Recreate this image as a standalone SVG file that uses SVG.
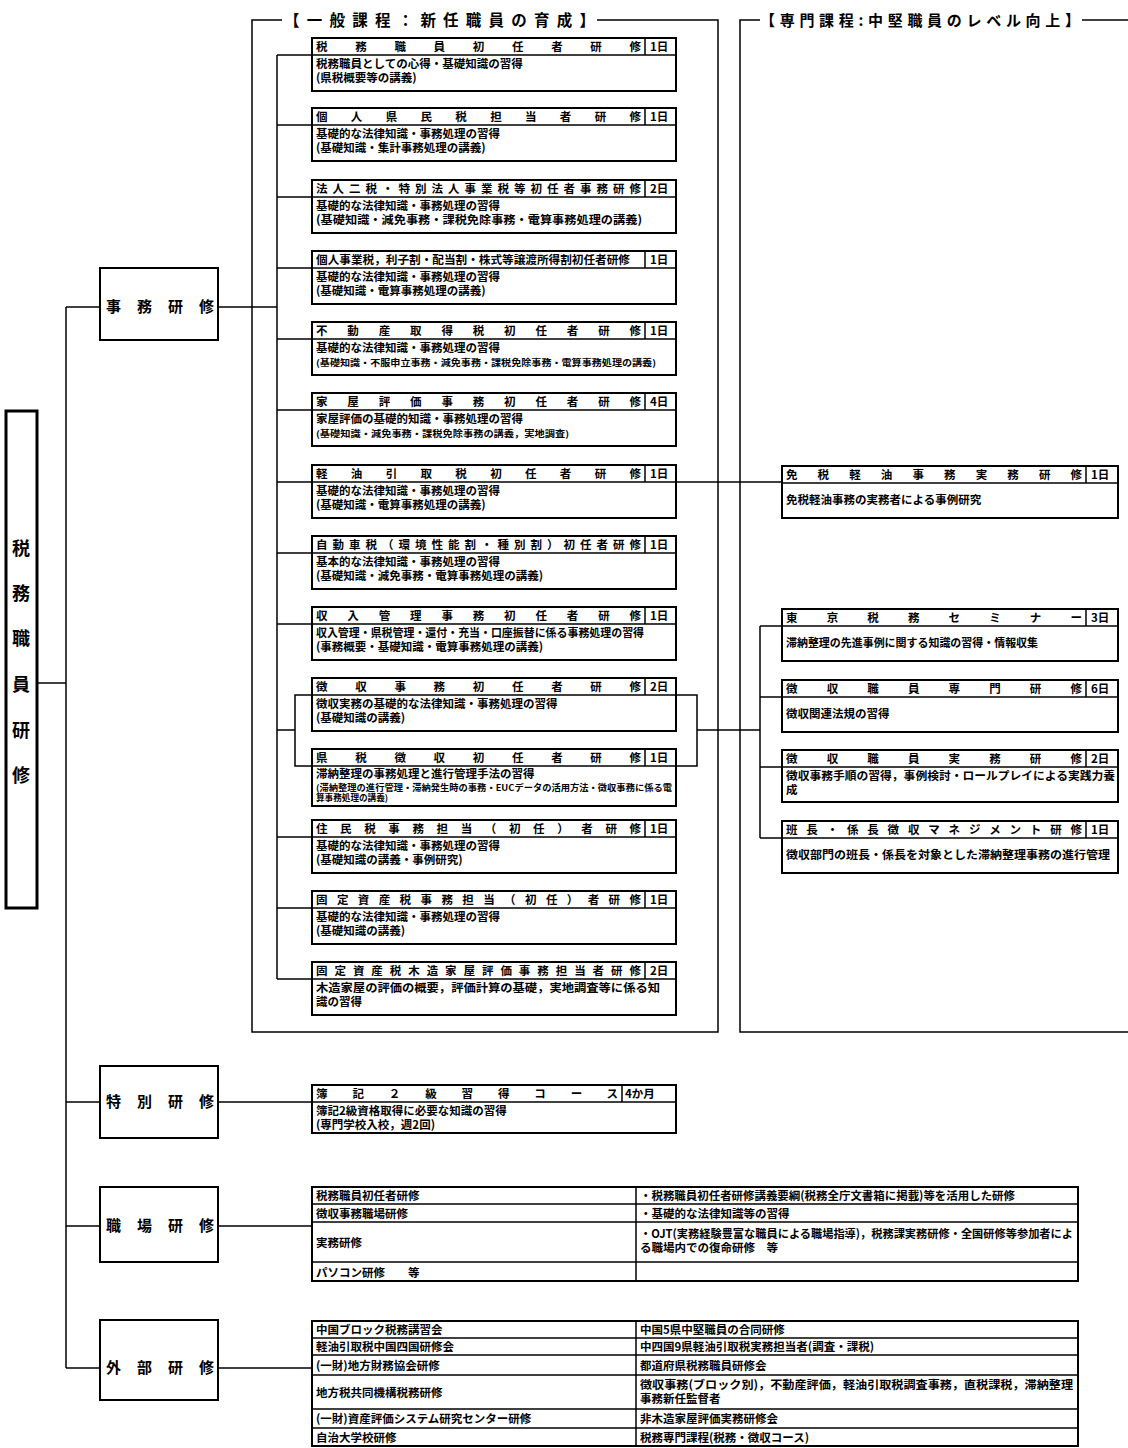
<svg xmlns="http://www.w3.org/2000/svg" width="1128" height="1448" viewBox="0 0 1128 1448">
<style>
.b{fill:#fff;stroke:#000;stroke-width:2}
.d{stroke:#000;stroke-width:1.5}
.ln{stroke:#000;stroke-width:1.5;fill:none}
text{font-family:"Noto Sans CJK JP","Noto Sans CJK SC",sans-serif;font-weight:bold;fill:#000}
.h{font-size:11.5px}
.t{font-size:11.5px}
.s{font-size:8.6px}
.m{font-size:15px}
.tb{font-size:11.5px}
</style>
<rect width="1128" height="1448" fill="#fff"/>
<g id="connectors">
<polyline class="ln" points="282,20 252,20 252,1032 718,1032 718,20 597,20"/>
<polyline class="ln" points="760,20 740,20 740,1032 1128,1032"/>
<line class="ln" x1="1082" y1="20" x2="1128" y2="20"/>
<line class="ln" x1="37" y1="683" x2="66" y2="683"/>
<line class="ln" x1="66" y1="307" x2="66" y2="1368"/>
<line class="ln" x1="66" y1="307" x2="100" y2="307"/>
<line class="ln" x1="66" y1="1102" x2="100" y2="1102"/>
<line class="ln" x1="66" y1="1226" x2="100" y2="1226"/>
<line class="ln" x1="66" y1="1368" x2="100" y2="1368"/>
<line class="ln" x1="218" y1="307" x2="277" y2="307"/>
<line class="ln" x1="218" y1="1102" x2="312" y2="1102"/>
<line class="ln" x1="218" y1="1226" x2="312" y2="1226"/>
<line class="ln" x1="218" y1="1368" x2="312" y2="1368"/>
<line class="ln" x1="277" y1="55" x2="277" y2="979"/>
<line class="ln" x1="277" y1="55" x2="312" y2="55"/>
<line class="ln" x1="277" y1="125" x2="312" y2="125"/>
<line class="ln" x1="277" y1="197" x2="312" y2="197"/>
<line class="ln" x1="277" y1="268" x2="312" y2="268"/>
<line class="ln" x1="277" y1="339" x2="312" y2="339"/>
<line class="ln" x1="277" y1="410" x2="312" y2="410"/>
<line class="ln" x1="277" y1="482" x2="312" y2="482"/>
<line class="ln" x1="277" y1="553" x2="312" y2="553"/>
<line class="ln" x1="277" y1="624" x2="312" y2="624"/>
<line class="ln" x1="277" y1="730" x2="295" y2="730"/>
<polyline class="ln" points="312,695 295,695 295,766 312,766"/>
<line class="ln" x1="277" y1="837" x2="312" y2="837"/>
<line class="ln" x1="277" y1="908" x2="312" y2="908"/>
<line class="ln" x1="277" y1="979" x2="312" y2="979"/>
<polyline class="ln" points="676,695 697,695 697,766 676,766"/>
<line class="ln" x1="697" y1="730" x2="760" y2="730"/>
<line class="ln" x1="676" y1="482" x2="782" y2="482"/>
<line class="ln" x1="760" y1="626" x2="760" y2="838"/>
<line class="ln" x1="760" y1="626" x2="782" y2="626"/>
<line class="ln" x1="760" y1="697" x2="782" y2="697"/>
<line class="ln" x1="760" y1="767" x2="782" y2="767"/>
<line class="ln" x1="760" y1="838" x2="782" y2="838"/>
</g>
<g id="frame-titles">
<text x="284" y="26" font-size="15.5" textLength="311" lengthAdjust="spacing">【一般課程：新任職員の育成】</text>
<text x="760" y="26" font-size="15" textLength="320" lengthAdjust="spacing">【専門課程:中堅職員のレベル向上】</text>
</g>
<g id="root">
<rect x="6" y="411" width="31" height="497" fill="#fff" stroke="#000" stroke-width="3"/>
<text x="21" y="555" font-size="18" text-anchor="middle">税</text>
<text x="21" y="600" font-size="18" text-anchor="middle">務</text>
<text x="21" y="645" font-size="18" text-anchor="middle">職</text>
<text x="21" y="691" font-size="18" text-anchor="middle">員</text>
<text x="21" y="737" font-size="18" text-anchor="middle">研</text>
<text x="21" y="782" font-size="18" text-anchor="middle">修</text>
</g>
<g id="jimu"><rect class="b" x="100" y="268" width="118" height="72"/><text class="m" x="106" y="312" textLength="108" lengthAdjust="spacing">事務研修</text></g>
<g id="tokubetsu"><rect class="b" x="100" y="1066" width="118" height="72"/><text class="m" x="106" y="1107" textLength="108" lengthAdjust="spacing">特別研修</text></g>
<g id="shokuba"><rect class="b" x="100" y="1187" width="118" height="75"/><text class="m" x="106" y="1231" textLength="108" lengthAdjust="spacing">職場研修</text></g>
<g id="gaibu"><rect class="b" x="100" y="1320" width="118" height="80"/><text class="m" x="106" y="1373" textLength="108" lengthAdjust="spacing">外部研修</text></g>

<g id="c1"><rect class="b" x="312" y="38" width="364" height="53"/><line class="d" x1="312" y1="55" x2="676" y2="55"/><line class="d" x1="645" y1="38" x2="645" y2="55"/>
<text class="h" x="316" y="51" textLength="325" lengthAdjust="spacing">税務職員初任者研修</text><text class="h" x="650" y="51">1日</text>
<text class="t" x="316" y="68">税務職員としての心得・基礎知識の習得</text><text class="t" x="316" y="82">(県税概要等の講義)</text></g>

<g id="c2"><rect class="b" x="312" y="108" width="364" height="53"/><line class="d" x1="312" y1="125" x2="676" y2="125"/><line class="d" x1="645" y1="108" x2="645" y2="125"/>
<text class="h" x="316" y="121" textLength="325" lengthAdjust="spacing">個人県民税担当者研修</text><text class="h" x="650" y="121">1日</text>
<text class="t" x="316" y="138">基礎的な法律知識・事務処理の習得</text><text class="t" x="316" y="152">(基礎知識・集計事務処理の講義)</text></g>

<g id="c3"><rect class="b" x="312" y="180" width="364" height="53"/><line class="d" x1="312" y1="197" x2="676" y2="197"/><line class="d" x1="645" y1="180" x2="645" y2="197"/>
<text class="h" x="316" y="193" textLength="325" lengthAdjust="spacing">法人二税・特別法人事業税等初任者事務研修</text><text class="h" x="650" y="193">2日</text>
<text class="t" x="316" y="210">基礎的な法律知識・事務処理の習得</text><text class="t" x="316" y="224" textLength="326" lengthAdjust="spacingAndGlyphs">(基礎知識・減免事務・課税免除事務・電算事務処理の講義)</text></g>

<g id="c4"><rect class="b" x="312" y="251" width="364" height="53"/><line class="d" x1="312" y1="268" x2="676" y2="268"/><line class="d" x1="645" y1="251" x2="645" y2="268"/>
<text class="h" x="316" y="264" textLength="314" lengthAdjust="spacingAndGlyphs">個人事業税，利子割・配当割・株式等譲渡所得割初任者研修</text><text class="h" x="650" y="264">1日</text>
<text class="t" x="316" y="281">基礎的な法律知識・事務処理の習得</text><text class="t" x="316" y="295">(基礎知識・電算事務処理の講義)</text></g>

<g id="c5"><rect class="b" x="312" y="322" width="364" height="53"/><line class="d" x1="312" y1="339" x2="676" y2="339"/><line class="d" x1="645" y1="322" x2="645" y2="339"/>
<text class="h" x="316" y="335" textLength="325" lengthAdjust="spacing">不動産取得税初任者研修</text><text class="h" x="650" y="335">1日</text>
<text class="t" x="316" y="352">基礎的な法律知識・事務処理の習得</text><text class="s" x="316" y="366" textLength="340" lengthAdjust="spacingAndGlyphs">(基礎知識・不服申立事務・減免事務・課税免除事務・電算事務処理の講義)</text></g>

<g id="c6"><rect class="b" x="312" y="393" width="364" height="53"/><line class="d" x1="312" y1="410" x2="676" y2="410"/><line class="d" x1="645" y1="393" x2="645" y2="410"/>
<text class="h" x="316" y="406" textLength="325" lengthAdjust="spacing">家屋評価事務初任者研修</text><text class="h" x="650" y="406">4日</text>
<text class="t" x="316" y="423">家屋評価の基礎的知識・事務処理の習得</text><text class="s" x="316" y="437" textLength="253" lengthAdjust="spacingAndGlyphs">(基礎知識・減免事務・課税免除事務の講義，実地調査)</text></g>

<g id="c7"><rect class="b" x="312" y="465" width="364" height="53"/><line class="d" x1="312" y1="482" x2="676" y2="482"/><line class="d" x1="645" y1="465" x2="645" y2="482"/>
<text class="h" x="316" y="478" textLength="325" lengthAdjust="spacing">軽油引取税初任者研修</text><text class="h" x="650" y="478">1日</text>
<text class="t" x="316" y="495">基礎的な法律知識・事務処理の習得</text><text class="t" x="316" y="509">(基礎知識・電算事務処理の講義)</text></g>

<g id="c8"><rect class="b" x="312" y="536" width="364" height="53"/><line class="d" x1="312" y1="553" x2="676" y2="553"/><line class="d" x1="645" y1="536" x2="645" y2="553"/>
<text class="h" x="316" y="549" textLength="325" lengthAdjust="spacing">自動車税（環境性能割・種別割）初任者研修</text><text class="h" x="650" y="549">1日</text>
<text class="t" x="316" y="566">基本的な法律知識・事務処理の習得</text><text class="t" x="316" y="580">(基礎知識・減免事務・電算事務処理の講義)</text></g>

<g id="c9"><rect class="b" x="312" y="607" width="364" height="53"/><line class="d" x1="312" y1="624" x2="676" y2="624"/><line class="d" x1="645" y1="607" x2="645" y2="624"/>
<text class="h" x="316" y="620" textLength="325" lengthAdjust="spacing">収入管理事務初任者研修</text><text class="h" x="650" y="620">1日</text>
<text class="t" x="316" y="637" textLength="328" lengthAdjust="spacingAndGlyphs">収入管理・県税管理・還付・充当・口座振替に係る事務処理の習得</text><text class="t" x="316" y="651">(事務概要・基礎知識・電算事務処理の講義)</text></g>

<g id="c10"><rect class="b" x="312" y="678" width="364" height="53"/><line class="d" x1="312" y1="695" x2="676" y2="695"/><line class="d" x1="645" y1="678" x2="645" y2="695"/>
<text class="h" x="316" y="691" textLength="325" lengthAdjust="spacing">徴収事務初任者研修</text><text class="h" x="650" y="691">2日</text>
<text class="t" x="316" y="708" font-size="12">徴収実務の基礎的な法律知識・事務処理の習得</text><text class="t" x="316" y="722">(基礎知識の講義)</text></g>

<g id="c11"><rect class="b" x="312" y="749" width="364" height="57"/><line class="d" x1="312" y1="766" x2="676" y2="766"/><line class="d" x1="645" y1="749" x2="645" y2="766"/>
<text class="h" x="316" y="762" textLength="325" lengthAdjust="spacing">県税徴収初任者研修</text><text class="h" x="650" y="762">1日</text>
<text class="t" x="316" y="778" font-size="12">滞納整理の事務処理と進行管理手法の習得</text>
<text class="s" x="316" y="791" font-size="7.6" textLength="356" lengthAdjust="spacingAndGlyphs">(滞納整理の進行管理・滞納発生時の事務・EUCデータの活用方法・徴収事務に係る電</text>
<text class="s" x="316" y="801" font-size="7.6">算事務処理の講義)</text></g>

<g id="c12"><rect class="b" x="312" y="820" width="364" height="53"/><line class="d" x1="312" y1="837" x2="676" y2="837"/><line class="d" x1="645" y1="820" x2="645" y2="837"/>
<text class="h" x="316" y="833" textLength="325" lengthAdjust="spacing">住民税事務担当（初任）者研修</text><text class="h" x="650" y="833">1日</text>
<text class="t" x="316" y="850">基礎的な法律知識・事務処理の習得</text><text class="t" x="316" y="864">(基礎知識の講義・事例研究)</text></g>

<g id="c13"><rect class="b" x="312" y="891" width="364" height="53"/><line class="d" x1="312" y1="908" x2="676" y2="908"/><line class="d" x1="645" y1="891" x2="645" y2="908"/>
<text class="h" x="316" y="904" textLength="325" lengthAdjust="spacing">固定資産税事務担当（初任）者研修</text><text class="h" x="650" y="904">1日</text>
<text class="t" x="316" y="921">基礎的な法律知識・事務処理の習得</text><text class="t" x="316" y="935">(基礎知識の講義)</text></g>

<g id="c14"><rect class="b" x="312" y="962" width="364" height="53"/><line class="d" x1="312" y1="979" x2="676" y2="979"/><line class="d" x1="645" y1="962" x2="645" y2="979"/>
<text class="h" x="316" y="975" textLength="325" lengthAdjust="spacing">固定資産税木造家屋評価事務担当者研修</text><text class="h" x="650" y="975">2日</text>
<text class="t" x="316" y="992" textLength="344" lengthAdjust="spacingAndGlyphs">木造家屋の評価の概要，評価計算の基礎，実地調査等に係る知</text><text class="t" x="316" y="1006">識の習得</text></g>

<g id="r1"><rect class="b" x="782" y="466" width="336" height="52"/><line class="d" x1="782" y1="483" x2="1118" y2="483"/><line class="d" x1="1086" y1="466" x2="1086" y2="483"/>
<text class="h" x="786" y="479" textLength="296" lengthAdjust="spacing">免税軽油事務実務研修</text><text class="h" x="1091" y="479">1日</text>
<text class="t" x="786" y="504" font-size="12">免税軽油事務の実務者による事例研究</text></g>

<g id="r2"><rect class="b" x="782" y="609" width="336" height="52"/><line class="d" x1="782" y1="626" x2="1118" y2="626"/><line class="d" x1="1086" y1="609" x2="1086" y2="626"/>
<text class="h" x="786" y="622" textLength="296" lengthAdjust="spacing">東京税務セミナー</text><text class="h" x="1091" y="622">3日</text>
<text class="t" x="786" y="647" textLength="252" lengthAdjust="spacingAndGlyphs">滞納整理の先進事例に関する知識の習得・情報収集</text></g>

<g id="r3"><rect class="b" x="782" y="680" width="336" height="52"/><line class="d" x1="782" y1="697" x2="1118" y2="697"/><line class="d" x1="1086" y1="680" x2="1086" y2="697"/>
<text class="h" x="786" y="693" textLength="296" lengthAdjust="spacing">徴収職員専門研修</text><text class="h" x="1091" y="693">6日</text>
<text class="t" x="786" y="718" font-size="12">徴収関連法規の習得</text></g>

<g id="r4"><rect class="b" x="782" y="750" width="336" height="52"/><line class="d" x1="782" y1="767" x2="1118" y2="767"/><line class="d" x1="1086" y1="750" x2="1086" y2="767"/>
<text class="h" x="786" y="763" textLength="296" lengthAdjust="spacing">徴収職員実務研修</text><text class="h" x="1091" y="763">2日</text>
<text class="t" x="786" y="780" textLength="329" lengthAdjust="spacingAndGlyphs">徴収事務手順の習得，事例検討・ロールプレイによる実践力養</text><text class="t" x="786" y="794">成</text></g>

<g id="r5"><rect class="b" x="782" y="821" width="336" height="52"/><line class="d" x1="782" y1="838" x2="1118" y2="838"/><line class="d" x1="1086" y1="821" x2="1086" y2="838"/>
<text class="h" x="786" y="834" textLength="296" lengthAdjust="spacing">班長・係長徴収マネジメント研修</text><text class="h" x="1091" y="834">1日</text>
<text class="t" x="786" y="859" textLength="324" lengthAdjust="spacingAndGlyphs">徴収部門の班長・係長を対象とした滞納整理事務の進行管理</text></g>

<g id="boki"><rect class="b" x="312" y="1085" width="364" height="48"/><line class="d" x1="312" y1="1102" x2="676" y2="1102"/><line class="d" x1="622" y1="1085" x2="622" y2="1102"/>
<text class="h" x="316" y="1098" textLength="302" lengthAdjust="spacing">簿記２級習得コース</text><text class="h" x="625" y="1098">4か月</text>
<text class="t" x="316" y="1115">簿記2級資格取得に必要な知識の習得</text><text class="t" x="316" y="1129">(専門学校入校，週2回)</text></g>

<g id="shokuba-table"><rect class="b" x="312" y="1187" width="766" height="94"/>
<line class="d" x1="636" y1="1187" x2="636" y2="1281"/>
<line class="d" x1="312" y1="1204" x2="1078" y2="1204"/><line class="d" x1="312" y1="1222" x2="1078" y2="1222"/><line class="d" x1="312" y1="1262" x2="1078" y2="1262"/>
<text class="tb" x="316" y="1200">税務職員初任者研修</text><text class="tb" x="640" y="1200" textLength="375" lengthAdjust="spacingAndGlyphs">・税務職員初任者研修講義要綱(税務全庁文書箱に掲載)等を活用した研修</text>
<text class="tb" x="316" y="1218">徴収事務職場研修</text><text class="tb" x="640" y="1218">・基礎的な法律知識等の習得</text>
<text class="tb" x="316" y="1247">実務研修</text><text class="tb" x="640" y="1238" textLength="433" lengthAdjust="spacingAndGlyphs">・OJT(実務経験豊富な職員による職場指導)，税務課実務研修・全国研修等参加者によ</text><text class="tb" x="640" y="1252">る職場内での復命研修　等</text>
<text class="tb" x="316" y="1277">パソコン研修　　等</text>
</g>

<g id="gaibu-table"><rect class="b" x="312" y="1321" width="766" height="125"/>
<line class="d" x1="636" y1="1321" x2="636" y2="1446"/>
<line class="d" x1="312" y1="1338" x2="1078" y2="1338"/><line class="d" x1="312" y1="1355" x2="1078" y2="1355"/><line class="d" x1="312" y1="1375" x2="1078" y2="1375"/><line class="d" x1="312" y1="1409" x2="1078" y2="1409"/><line class="d" x1="312" y1="1428" x2="1078" y2="1428"/>
<text class="tb" x="316" y="1334">中国ブロック税務講習会</text><text class="tb" x="640" y="1334">中国5県中堅職員の合同研修</text>
<text class="tb" x="316" y="1351">軽油引取税中国四国研修会</text><text class="tb" x="640" y="1351">中四国9県軽油引取税実務担当者(調査・課税)</text>
<text class="tb" x="316" y="1370">(一財)地方財務協会研修</text><text class="tb" x="640" y="1370">都道府県税務職員研修会</text>
<text class="tb" x="316" y="1397">地方税共同機構税務研修</text><text class="tb" x="640" y="1389" textLength="433" lengthAdjust="spacingAndGlyphs">徴収事務(ブロック別)，不動産評価，軽油引取税調査事務，直税課税，滞納整理</text><text class="tb" x="640" y="1403">事務新任監督者</text>
<text class="tb" x="316" y="1423">(一財)資産評価システム研究センター研修</text><text class="tb" x="640" y="1423">非木造家屋評価実務研修会</text>
<text class="tb" x="316" y="1442">自治大学校研修</text><text class="tb" x="640" y="1442">税務専門課程(税務・徴収コース)</text>
</g>
</svg>
